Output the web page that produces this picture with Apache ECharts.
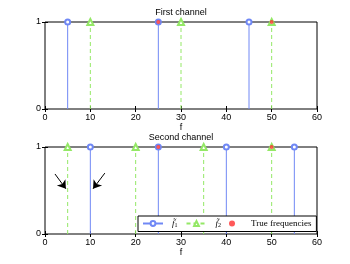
<!DOCTYPE html>
<html><head><meta charset="utf-8">
<script src="https://cdn.jsdelivr.net/npm/echarts@6/dist/echarts.min.js"></script>
<style>html,body{margin:0;padding:0;background:#fff}#c{width:350px;height:264px}</style>
</head><body><div id="c"></div>
<script>
const xTicks = [0, 10, 20, 30, 40, 50, 60];
const ch1_f1 = [5, 25, 45];
const ch1_f2 = [10, 30, 50];
const ch1_true = [25, 50];
const ch2_f1 = [10, 25, 40, 55];
const ch2_f2 = [5, 20, 35, 50];
const ch2_true = [25, 50];
const titles = ['First channel', 'Second channel'];
const arrows = [[[2.2, 0.69], [4.6, 0.52]], [[13.2, 0.7], [10.6, 0.52]]];

const BLUE = '#7088f5', GREEN = '#94e866', RED = '#ff3030';
const FONT = 'Liberation Sans';

function stems(xs) {
  const d = [];
  xs.forEach((x, i) => {
    if (i > 0) d.push([x, '-']);
    d.push({ value: [x, 0], symbol: 'none' });
    d.push({ value: [x, 1] });
  });
  return d;
}

const grids = [{ left: 45, right: 33, top: 22, height: 87 }, { left: 45, right: 33, top: 147, height: 87 }];
const xAxis = [], yAxis = [], series = [];
grids.forEach((g, gi) => {
  g.show = true; g.borderColor = '#000'; g.borderWidth = 1;
  xAxis.push({ type: 'value', gridIndex: gi, min: 0, max: 60, interval: 10, position: 'bottom',
    name: 'f', nameLocation: 'middle', nameGap: 14,
    nameTextStyle: { fontFamily: FONT, fontSize: 9, color: '#000' },
    axisLine: { show: false }, splitLine: { show: false },
    axisTick: { inside: true, length: 3, lineStyle: { color: '#000' } },
    axisLabel: { margin: 4, fontFamily: FONT, fontSize: 9, color: '#000' } });
  xAxis.push({ type: 'value', gridIndex: gi, min: 0, max: 60, interval: 10, position: 'top',
    axisLine: { show: false }, splitLine: { show: false }, axisLabel: { show: false },
    axisTick: { inside: true, length: 3, lineStyle: { color: '#000' } } });
  yAxis.push({ type: 'value', gridIndex: gi, min: 0, max: 1, interval: 1, position: 'left',
    axisLine: { show: false }, splitLine: { show: false },
    axisTick: { inside: true, length: 3, lineStyle: { color: '#000' } },
    axisLabel: { margin: 4, fontFamily: FONT, fontSize: 9, color: '#000' } });
  yAxis.push({ type: 'value', gridIndex: gi, min: 0, max: 1, interval: 1, position: 'right',
    axisLine: { show: false }, splitLine: { show: false }, axisLabel: { show: false },
    axisTick: { inside: true, length: 3, lineStyle: { color: '#000' } } });
});

const chData = [[ch1_f1, ch1_f2, ch1_true], [ch2_f1, ch2_f2, ch2_true]];
chData.forEach((c, gi) => {
  series.push({ name: 'f1', type: 'line', xAxisIndex: gi * 2, yAxisIndex: gi * 2,
    data: stems(c[0]), connectNulls: false, symbol: 'emptyCircle', symbolSize: 5,
    color: BLUE, lineStyle: { color: BLUE, width: 1 }, itemStyle: { color: BLUE, borderWidth: 1 }, animation: false });
  series.push({ name: 'f2', type: 'line', xAxisIndex: gi * 2, yAxisIndex: gi * 2,
    data: stems(c[1]), connectNulls: false, symbol: 'emptyTriangle', symbolSize: 6,
    color: GREEN, lineStyle: { color: GREEN, width: 1, type: [4, 3] }, itemStyle: { color: GREEN, borderWidth: 1 }, animation: false });
  const s = { name: 'True frequencies', type: 'scatter', xAxisIndex: gi * 2, yAxisIndex: gi * 2,
    data: c[2].map(x => [x, 1]), symbol: 'circle', symbolSize: 4, color: RED,
    itemStyle: { color: RED }, animation: false, z: 5 };
  if (gi === 1) {
    s.markLine = { silent: true, animation: false, symbol: ['none', 'arrow'], symbolSize: 8,
      lineStyle: { color: '#000', width: 1, type: 'solid' }, label: { show: false },
      data: arrows.map(a => [{ coord: a[0] }, { coord: a[1] }]) };
  }
  series.push(s);
});

const option = {
  backgroundColor: '#fff',
  animation: false,
  title: titles.map((t, i) => ({ text: t, left: 181, top: i === 0 ? 8 : 133, textAlign: 'center', padding: 0,
    textStyle: { fontFamily: FONT, fontSize: 9, fontWeight: 'normal', color: '#000' } })),
  grid: grids, xAxis: xAxis, yAxis: yAxis, series: series,
  legend: { left: 138, top: 216, orient: 'horizontal', itemWidth: 20, itemHeight: 6, itemGap: 8,
    padding: [3, 5, 3, 4], borderColor: '#000', borderWidth: 1, backgroundColor: '#fff',
    data: ['f1', 'f2', 'True frequencies'],
    formatter: n => n === 'f1' ? '{i|f\u0303}{s|1}' : n === 'f2' ? '{i|f\u0303}{s|2}' : n,
    textStyle: { fontFamily: 'Liberation Serif', fontSize: 9, color: '#000', padding: [0, 0, 0, 4],
      rich: { i: { fontFamily: 'Liberation Serif', fontStyle: 'italic', fontSize: 9 }, s: { fontFamily: 'Liberation Serif', fontSize: 6, padding: [4, 0, 0, 0] } } } }
};
const chart = echarts.init(document.getElementById('c'), null, { renderer: 'canvas' });
chart.setOption(option);
</script></body></html>
